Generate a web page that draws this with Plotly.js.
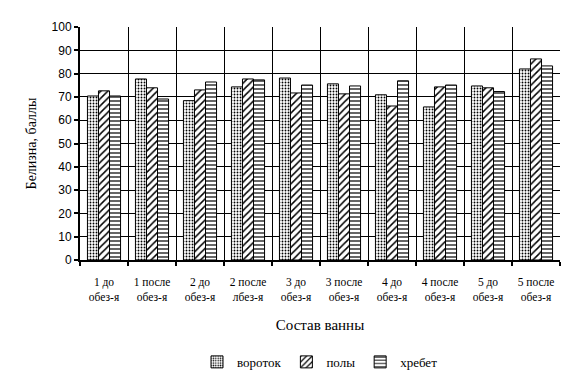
<!DOCTYPE html>
<html>
<head>
<meta charset="utf-8">
<script src="https://cdn.plot.ly/plotly-3.0.1.min.js"></script>
<style>html,body{margin:0;padding:0;background:#fff;}#chart{width:577px;height:383px;}</style>
</head>
<body>
<div id="chart"></div>
<script>
const categories = ["1 до<br>обез-я","1 после<br>обез-я","2 до<br>обез-я","2 после<br>лбез-я","3 до<br>обез-я","3 после<br>обез-я","4 до<br>обез-я","4 после<br>обез-я","5 до<br>обез-я","5 после<br>обез-я"];
const vorotok = [70.4, 77.7, 68.4, 74.3, 78.1, 75.6, 70.9, 65.7, 74.7, 82.0];
const poly    = [72.6, 73.9, 73.0, 77.7, 71.7, 71.3, 66.1, 74.3, 73.9, 86.3];
const hrebet  = [70.4, 69.1, 76.4, 77.3, 75.1, 74.7, 76.9, 75.1, 72.3, 83.3];
const seriesNames = ["вороток", "полы", "хребет"];

const SERIF = "'Liberation Serif', 'Times New Roman', serif";
const SANS = "'Liberation Sans', Arial, sans-serif";

function mk(name, vals, shape, size){
  return {
    type: 'bar', name: name, x: categories, y: vals,
    marker: {color: '#ffffff', line: {color: '#000', width: 1},
      pattern: {shape: shape, fgcolor: '#000', bgcolor: '#fff', size: size, solidity: 0.3}}
  };
}
const data = [
  mk(seriesNames[0], vorotok, '.', 3),
  mk(seriesNames[1], poly, '/', 5),
  mk(seriesNames[2], hrebet, '-', 4)
];
const layout = {
  width: 577, height: 383,
  margin: {l: 80, r: 17, t: 27, b: 123},
  paper_bgcolor: '#fff', plot_bgcolor: '#fff',
  barmode: 'group', bargap: 0.31, bargroupgap: 0,
  showlegend: true,
  legend: {orientation: 'h', x: 0.5, xanchor: 'center', xref: 'paper', yref: 'container', y: 0.055, yanchor: 'middle',
    font: {family: SERIF, size: 13, color: '#000'}, itemwidth: 30, tracegroupgap: 0},
  xaxis: {
    type: 'category', tickson: 'boundaries', showgrid: true, gridcolor: '#000', gridwidth: 1,
    ticks: 'outside', ticklen: 4, tickcolor: '#000', tickwidth: 2,
    showline: true, linecolor: '#000', linewidth: 2,
    tickangle: 0, ticklabelstandoff: 10,
    tickfont: {family: SERIF, size: 11.5, color: '#000'},
    title: {text: 'Состав ванны', font: {family: SERIF, size: 15, color: '#000'}, standoff: 18},
    automargin: false
  },
  yaxis: {
    range: [0, 100], dtick: 10, showgrid: true, gridcolor: '#000', gridwidth: 1,
    ticks: 'outside', ticklen: 4, tickcolor: '#000', tickwidth: 2,
    showline: true, linecolor: '#000', linewidth: 2, zeroline: false,
    tickfont: {family: SANS, size: 12, color: '#000'},
    title: {text: 'Белизна, баллы', font: {family: SERIF, size: 14, color: '#000'}, standoff: 12},
    automargin: false
  }
};
Plotly.newPlot('chart', data, layout, {displayModeBar: false, staticPlot: true});
</script>
</body>
</html>
